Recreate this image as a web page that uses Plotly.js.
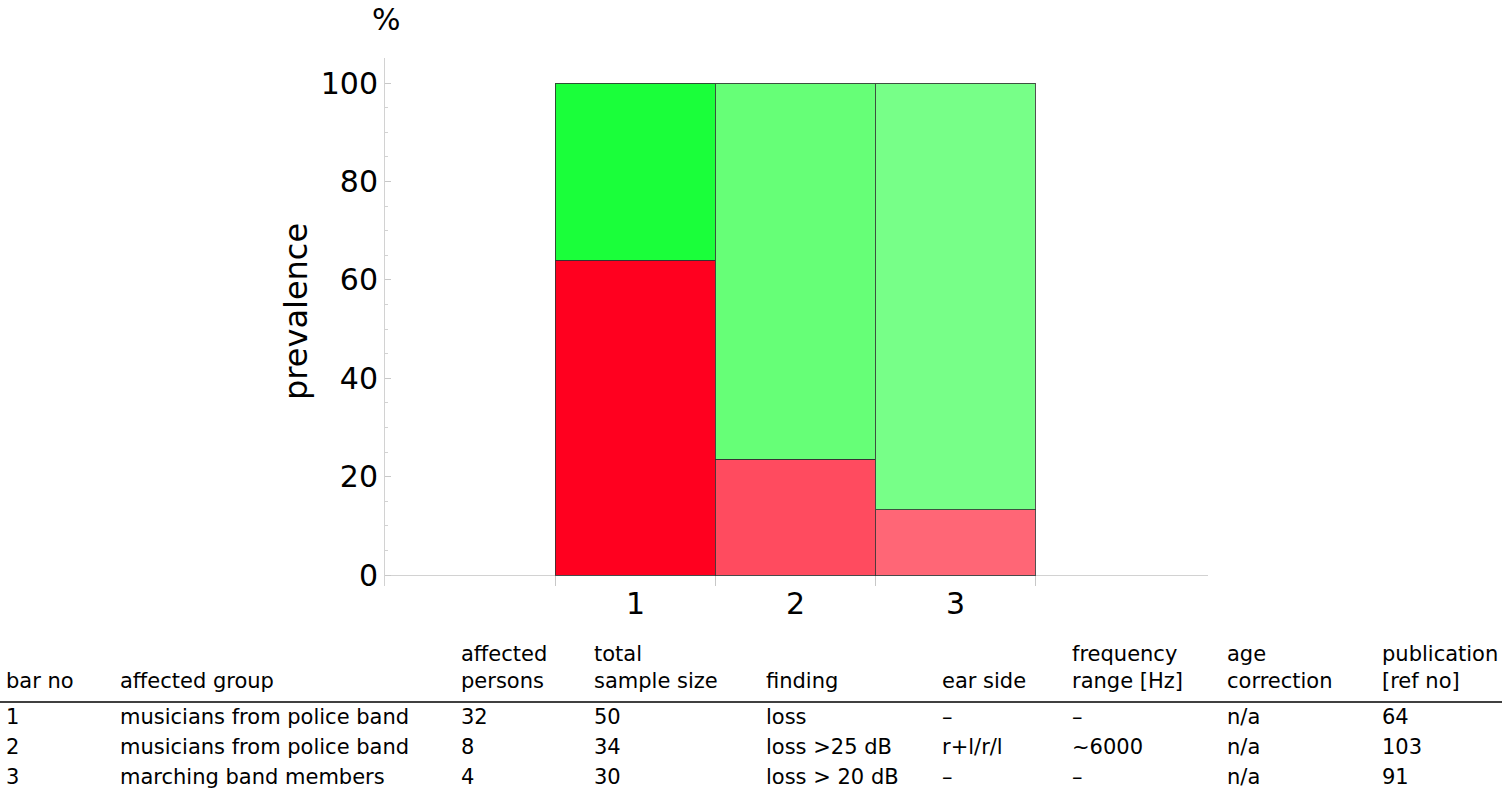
<!DOCTYPE html>
<html>
<head>
<meta charset="utf-8">
<script src="https://cdn.plot.ly/plotly-3.0.1.min.js"></script>
<style>html,body{margin:0;padding:0;background:#fff;}#chart{width:1507px;height:795px;}</style>
</head>
<body>
<div id="chart"></div>
<script>
// ---- data ----
var barNo = [1, 2, 3];
var affectedGroup = ["musicians from police band", "musicians from police band", "marching band members"];
var affectedPersons = [32, 8, 4];
var totalSampleSize = [50, 34, 30];
var finding = ["loss", "loss >25 dB", "loss > 20 dB"];
var earSide = ["\u2013", "r+l/r/l", "\u2013"];
var frequencyRange = ["\u2013", "~6000", "\u2013"];
var ageCorrection = ["n/a", "n/a", "n/a"];
var refNo = [64, 103, 91];
var headers = ["bar no", "affected group", "affected<br>persons", "total<br>sample size", "finding",
               "ear side", "frequency<br>range [Hz]", "age<br>correction", "publication<br>[ref no]"];
var yTickVals = [0, 20, 40, 60, 80, 100];

// ---- styles ----
var redColors = ["#ff001f", "#ff4b5f", "#ff6676"];
var greenColors = ["#1aff3a", "#66ff77", "#77ff88"];
var FONT = "DejaVu Sans";

var prevalence = affectedPersons.map(function (a, i) { return a / totalSampleSize[i] * 100; });
var rest = prevalence.map(function (p) { return 100 - p; });
var edges = [];
barNo.forEach(function (b) { edges.push(b - 0.5); });
edges.push(barNo[barNo.length - 1] + 0.5);

// pixel -> paper helpers (layout only)
var M = {l: 385, r: 299, t: 58, b: 209};
var W = 1507, H = 795;
var pw = W - M.l - M.r, ph = H - M.t - M.b;
function px(x) { return (x - M.l) / pw; }
function py(y) { return (H - M.b - y) / ph; }

var traces = [
  {type: "bar", x: barNo, y: prevalence, width: 1,
   marker: {color: redColors, line: {color: "rgba(50,50,50,0.85)", width: 1}},
   hoverinfo: "skip"},
  {type: "bar", x: barNo, y: rest, width: 1,
   marker: {color: greenColors, line: {color: "rgba(50,50,50,0.85)", width: 1}},
   hoverinfo: "skip"}
];

var annotations = [];
// x labels
barNo.forEach(function (b) {
  annotations.push({x: b, y: 0, xref: "x", yref: "y", yanchor: "top", yshift: -9,
    text: String(b), showarrow: false, font: {family: FONT, size: 30, color: "#000"}});
});
// % unit
annotations.push({x: px(386), y: py(20), xref: "paper", yref: "paper", xanchor: "center", yanchor: "middle",
  text: "%", showarrow: false, font: {family: FONT, size: 30, color: "#000"}});
// y axis title
annotations.push({x: px(296), y: py(312), xref: "paper", yref: "paper", xanchor: "center", yanchor: "middle",
  text: "prevalence", textangle: -90, showarrow: false, font: {family: FONT, size: 32, color: "#000"}});

// table
var colX = [7, 121, 462, 595, 767, 943, 1073, 1228, 1383];
var rowY = [717, 747, 777];
var TF = {family: FONT, size: 21, color: "#000"};
headers.forEach(function (h, c) {
  annotations.push({x: px(colX[c]), y: py(694), xref: "paper", yref: "paper", xanchor: "left", yanchor: "bottom",
    xshift: -2, align: "left", text: h, showarrow: false, borderpad: 0, font: TF});
});
var columns = [barNo, affectedGroup, affectedPersons, totalSampleSize, finding, earSide, frequencyRange, ageCorrection, refNo];
for (var r = 0; r < barNo.length; r++) {
  columns.forEach(function (col, c) {
    annotations.push({x: px(colX[c]), y: py(rowY[r]), xref: "paper", yref: "paper", xanchor: "left", yanchor: "middle",
      xshift: -2, align: "left", text: String(col[r]), showarrow: false, borderpad: 0, font: TF});
  });
}

var layout = {
  width: W, height: H,
  margin: {l: M.l, r: M.r, t: M.t, b: M.b, pad: 0},
  paper_bgcolor: "#fff", plot_bgcolor: "#fff",
  barmode: "stack", showlegend: false,
  xaxis: {range: [-0.5625, 4.58], showgrid: false, zeroline: false, showline: false,
    tickvals: edges, ticktext: edges.map(function () { return ""; }),
    ticks: "inside", ticklen: 10, tickcolor: "#c8c8c8", tickwidth: 1, fixedrange: true},
  yaxis: {range: [-2.2, 105.1], showgrid: false,
    showline: true, linecolor: "#d2d2d2", linewidth: 1,
    zeroline: true, zerolinecolor: "#d2d2d2", zerolinewidth: 1,
    tickvals: yTickVals, ticks: "inside", ticklen: 6, tickcolor: "#c8c8c8", tickwidth: 1,
    minor: {dtick: 5, tick0: 0, ticks: "inside", ticklen: 3, tickcolor: "#d2d2d2", showgrid: false},
    tickfont: {family: FONT, size: 30, color: "#000"},
    fixedrange: true},
  shapes: [
    {type: "line", xref: "paper", yref: "paper", x0: px(0), x1: px(1502), y0: py(702), y1: py(702),
     line: {color: "#000", width: 1.5}}
  ],
  annotations: annotations
};

Plotly.newPlot("chart", traces, layout, {displayModeBar: false, staticPlot: true});
</script>
</body>
</html>
